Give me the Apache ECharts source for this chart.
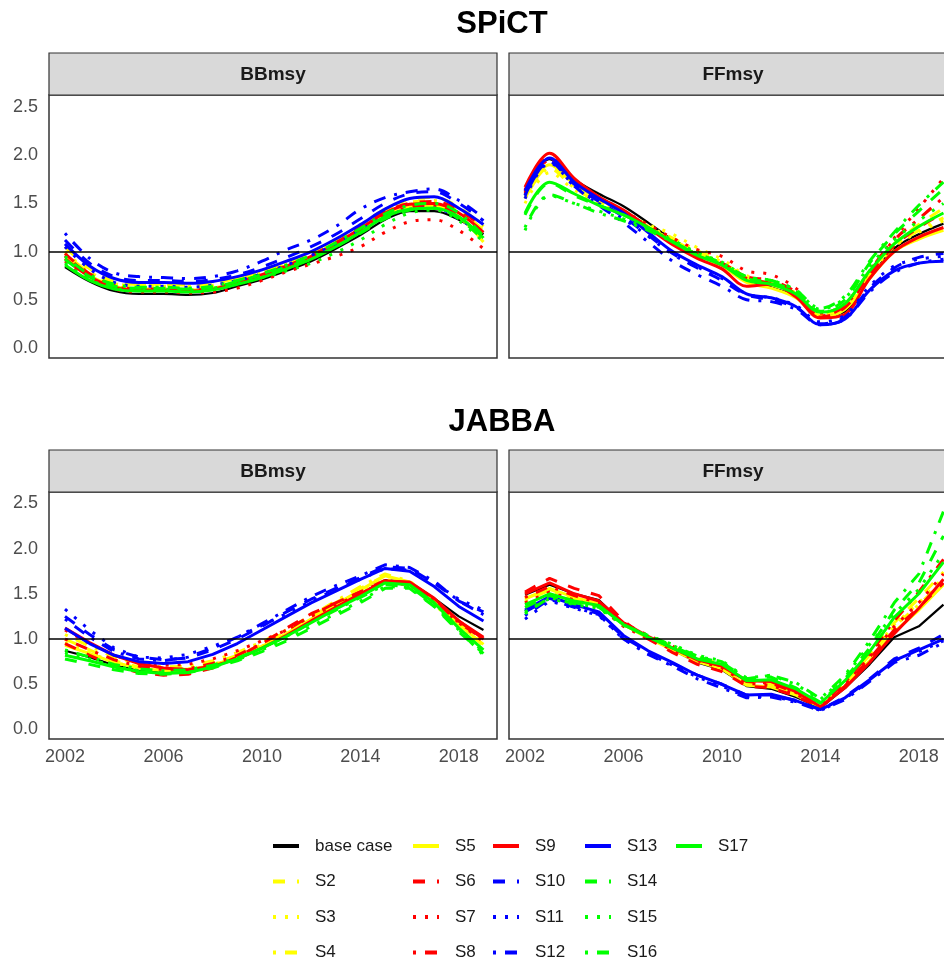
<!DOCTYPE html>
<html>
<head>
<meta charset="utf-8">
<script src="https://cdn.jsdelivr.net/npm/echarts@6/dist/echarts.min.js"></script>
<style>
  html, body { margin: 0; padding: 0; background: #fff; overflow: hidden; }
  /* the figure is cut at the right edge, like the reference */
  #chart { width: 962px; height: 990px; }
</style>
</head>
<body>
<div id="chart"></div>
<script>
// ── data ────────────────────────────────────────────────────────────────────
const YEARS   = [2002,2003,2004,2005,2006,2007,2008,2009,2010,2011,2012,2013,2014,2015,2016,2017,2018,2019];
const X_TICKS = [2002, 2006, 2010, 2014, 2018];
const Y_TICKS = [0, 0.5, 1, 1.5, 2, 2.5];
const RUNS    = ['base case','S2','S3','S4','S5','S6','S7','S8','S9','S10','S11','S12','S13','S14','S15','S16','S17'];

// rows follow RUNS order
const SPICT_BB = [
  [0.84,0.69,0.59,0.56,0.56,0.55,0.57,0.64,0.71,0.80,0.90,1.03,1.17,1.33,1.42,1.42,1.33,1.18], // base case
  [1.05,0.82,0.69,0.66,0.66,0.65,0.67,0.72,0.79,0.88,0.98,1.11,1.27,1.44,1.54,1.56,1.46,1.26], // S2
  [1.00,0.79,0.67,0.64,0.64,0.63,0.65,0.71,0.78,0.87,0.97,1.10,1.25,1.40,1.49,1.50,1.40,1.20], // S3
  [0.98,0.78,0.67,0.65,0.65,0.64,0.66,0.72,0.79,0.88,0.98,1.11,1.26,1.42,1.51,1.53,1.43,1.22], // S4
  [0.95,0.75,0.64,0.61,0.61,0.60,0.62,0.68,0.75,0.84,0.94,1.07,1.22,1.37,1.46,1.48,1.36,1.10], // S5
  [0.98,0.77,0.65,0.61,0.61,0.60,0.62,0.68,0.76,0.85,0.96,1.09,1.25,1.41,1.50,1.52,1.43,1.25], // S6
  [0.90,0.72,0.61,0.58,0.58,0.57,0.58,0.62,0.70,0.79,0.87,0.95,1.05,1.20,1.31,1.33,1.22,1.03], // S7
  [0.96,0.76,0.64,0.61,0.60,0.59,0.61,0.67,0.74,0.83,0.93,1.06,1.21,1.37,1.46,1.48,1.37,1.18], // S8
  [0.93,0.74,0.63,0.60,0.60,0.59,0.61,0.68,0.76,0.85,0.95,1.08,1.24,1.40,1.49,1.50,1.40,1.20], // S9
  [1.12,0.88,0.74,0.70,0.70,0.69,0.71,0.76,0.84,0.94,1.05,1.18,1.34,1.50,1.60,1.62,1.50,1.32], // S10
  [1.05,0.82,0.68,0.64,0.64,0.63,0.65,0.70,0.77,0.86,0.96,1.08,1.22,1.36,1.44,1.45,1.34,1.17], // S11
  [1.19,0.93,0.78,0.74,0.73,0.72,0.74,0.80,0.90,1.02,1.12,1.26,1.44,1.56,1.62,1.65,1.53,1.35], // S12
  [1.08,0.85,0.72,0.68,0.68,0.67,0.69,0.74,0.81,0.90,1.00,1.13,1.28,1.44,1.55,1.57,1.45,1.28], // S13
  [0.92,0.74,0.64,0.62,0.62,0.61,0.63,0.69,0.76,0.84,0.93,1.05,1.19,1.34,1.43,1.45,1.34,1.12], // S14
  [0.88,0.71,0.62,0.60,0.61,0.60,0.62,0.67,0.73,0.80,0.88,0.99,1.12,1.28,1.40,1.43,1.32,1.10], // S15
  [0.95,0.76,0.66,0.63,0.63,0.62,0.64,0.70,0.77,0.86,0.96,1.09,1.24,1.39,1.48,1.50,1.40,1.16], // S16
  [0.86,0.70,0.61,0.59,0.59,0.58,0.60,0.66,0.73,0.82,0.92,1.05,1.20,1.36,1.44,1.45,1.36,1.14]  // S17
];

const SPICT_FF = [
  [1.62,1.96,1.75,1.60,1.47,1.30,1.12,0.97,0.87,0.70,0.63,0.53,0.33,0.38,0.72,1.03,1.18,1.29], // base case
  [1.55,1.88,1.68,1.52,1.40,1.25,1.12,0.99,0.88,0.72,0.66,0.55,0.34,0.44,0.78,1.08,1.28,1.45], // S2
  [1.50,1.82,1.64,1.50,1.40,1.28,1.18,1.04,0.92,0.75,0.68,0.57,0.36,0.45,0.76,1.05,1.20,1.32], // S3
  [1.55,1.86,1.66,1.51,1.39,1.26,1.14,1.01,0.89,0.73,0.66,0.55,0.34,0.43,0.75,1.05,1.22,1.35], // S4
  [1.58,1.90,1.70,1.54,1.42,1.26,1.10,0.96,0.85,0.68,0.62,0.52,0.32,0.40,0.72,1.00,1.13,1.22], // S5
  [1.64,1.98,1.74,1.56,1.42,1.26,1.08,0.95,0.86,0.72,0.67,0.56,0.32,0.42,0.76,1.06,1.25,1.40], // S6
  [1.60,1.95,1.72,1.55,1.42,1.28,1.14,1.02,0.95,0.80,0.76,0.62,0.36,0.46,0.80,1.14,1.45,1.76], // S7
  [1.62,1.96,1.73,1.56,1.42,1.25,1.10,0.97,0.88,0.74,0.70,0.58,0.33,0.44,0.80,1.12,1.34,1.56], // S8
  [1.67,2.02,1.76,1.57,1.43,1.25,1.07,0.93,0.82,0.64,0.66,0.53,0.31,0.35,0.72,1.00,1.15,1.25], // S9
  [1.58,1.94,1.70,1.52,1.36,1.17,0.98,0.83,0.70,0.55,0.50,0.42,0.25,0.32,0.62,0.83,0.94,0.98], // S10
  [1.55,1.92,1.68,1.50,1.34,1.16,0.97,0.84,0.72,0.56,0.52,0.44,0.27,0.34,0.64,0.85,0.92,0.95], // S11
  [1.58,1.93,1.68,1.48,1.30,1.10,0.90,0.76,0.64,0.50,0.48,0.40,0.24,0.30,0.58,0.78,0.88,0.92], // S12
  [1.63,1.97,1.72,1.55,1.40,1.20,1.00,0.86,0.74,0.56,0.52,0.43,0.24,0.30,0.60,0.80,0.88,0.90], // S13
  [1.38,1.71,1.58,1.48,1.38,1.25,1.10,0.97,0.87,0.72,0.68,0.58,0.38,0.50,0.88,1.18,1.42,1.65], // S14
  [1.22,1.58,1.50,1.42,1.34,1.24,1.12,0.99,0.89,0.74,0.70,0.60,0.40,0.52,0.85,1.12,1.32,1.50], // S15
  [1.25,1.59,1.50,1.40,1.32,1.22,1.10,0.98,0.88,0.74,0.70,0.60,0.41,0.54,0.90,1.20,1.48,1.72], // S16
  [1.40,1.72,1.60,1.48,1.38,1.25,1.10,0.96,0.86,0.70,0.66,0.56,0.37,0.46,0.80,1.08,1.26,1.40]  // S17
];

const JABBA_BB = [
  [0.87,0.80,0.71,0.65,0.63,0.64,0.70,0.79,0.90,1.04,1.20,1.36,1.50,1.65,1.63,1.45,1.25,1.10], // base case
  [1.00,0.88,0.76,0.69,0.66,0.67,0.73,0.82,0.94,1.08,1.25,1.40,1.56,1.70,1.62,1.40,1.15,0.93], // S2
  [0.96,0.85,0.74,0.68,0.66,0.67,0.72,0.80,0.92,1.06,1.22,1.38,1.53,1.66,1.60,1.38,1.14,0.95], // S3
  [1.05,0.92,0.80,0.72,0.69,0.70,0.76,0.85,0.97,1.10,1.26,1.42,1.58,1.72,1.64,1.42,1.18,0.98], // S4
  [0.93,0.84,0.74,0.68,0.65,0.66,0.71,0.80,0.92,1.06,1.22,1.38,1.54,1.70,1.63,1.42,1.16,0.94], // S5
  [0.95,0.82,0.70,0.63,0.60,0.61,0.68,0.80,0.95,1.12,1.28,1.40,1.52,1.65,1.62,1.44,1.20,1.00], // S6
  [1.10,0.95,0.82,0.74,0.71,0.72,0.78,0.87,0.98,1.10,1.25,1.38,1.50,1.62,1.60,1.40,1.18,0.97], // S7
  [1.00,0.88,0.77,0.70,0.66,0.67,0.73,0.82,0.95,1.10,1.26,1.40,1.52,1.64,1.62,1.43,1.18,1.00], // S8
  [1.12,0.96,0.82,0.73,0.68,0.66,0.70,0.78,0.90,1.04,1.20,1.35,1.50,1.64,1.63,1.45,1.20,1.02], // S9
  [1.25,1.05,0.88,0.80,0.77,0.79,0.88,1.00,1.14,1.30,1.44,1.56,1.68,1.80,1.78,1.62,1.42,1.30], // S10
  [1.33,1.10,0.90,0.80,0.79,0.83,0.92,1.02,1.15,1.28,1.42,1.55,1.66,1.78,1.76,1.62,1.44,1.32], // S11
  [1.22,1.02,0.86,0.78,0.76,0.80,0.90,1.02,1.17,1.32,1.47,1.59,1.70,1.82,1.79,1.64,1.42,1.27], // S12
  [1.12,0.95,0.82,0.75,0.73,0.75,0.83,0.95,1.10,1.25,1.40,1.53,1.66,1.78,1.75,1.58,1.36,1.20], // S13
  [0.78,0.72,0.66,0.62,0.61,0.63,0.68,0.76,0.86,0.98,1.12,1.26,1.40,1.56,1.56,1.36,1.08,0.84], // S14
  [0.85,0.78,0.70,0.65,0.63,0.64,0.69,0.77,0.88,1.00,1.14,1.28,1.42,1.58,1.57,1.36,1.10,0.86], // S15
  [0.88,0.80,0.72,0.67,0.65,0.66,0.71,0.79,0.90,1.03,1.18,1.32,1.46,1.60,1.58,1.38,1.10,0.82], // S16
  [0.82,0.76,0.69,0.64,0.62,0.63,0.69,0.78,0.90,1.03,1.18,1.33,1.47,1.62,1.60,1.40,1.12,0.88]  // S17
];

const JABBA_FF = [
  [1.49,1.60,1.50,1.43,1.17,1.02,0.88,0.74,0.66,0.48,0.45,0.36,0.24,0.46,0.72,1.02,1.14,1.38], // base case
  [1.45,1.55,1.45,1.38,1.16,1.02,0.90,0.78,0.70,0.52,0.50,0.40,0.26,0.52,0.82,1.18,1.45,1.74], // S2
  [1.40,1.52,1.42,1.36,1.15,1.03,0.92,0.80,0.72,0.54,0.52,0.42,0.27,0.52,0.82,1.16,1.40,1.68], // S3
  [1.42,1.54,1.44,1.37,1.16,1.02,0.90,0.78,0.70,0.52,0.50,0.40,0.26,0.50,0.80,1.14,1.38,1.64], // S4
  [1.44,1.56,1.46,1.39,1.16,1.01,0.88,0.75,0.67,0.49,0.47,0.38,0.25,0.48,0.76,1.08,1.32,1.60], // S5
  [1.52,1.67,1.56,1.48,1.20,1.00,0.85,0.72,0.64,0.48,0.46,0.37,0.24,0.48,0.78,1.10,1.35,1.62], // S6
  [1.40,1.52,1.43,1.36,1.14,1.00,0.88,0.76,0.68,0.51,0.49,0.39,0.25,0.50,0.80,1.14,1.40,1.72], // S7
  [1.46,1.58,1.48,1.40,1.18,1.04,0.92,0.78,0.70,0.53,0.51,0.41,0.26,0.52,0.84,1.20,1.52,1.88], // S8
  [1.50,1.62,1.50,1.42,1.18,1.03,0.90,0.77,0.70,0.54,0.53,0.42,0.25,0.46,0.74,1.06,1.34,1.66], // S9
  [1.30,1.45,1.36,1.28,1.02,0.86,0.73,0.60,0.50,0.38,0.38,0.32,0.22,0.36,0.56,0.78,0.90,1.05], // S10
  [1.22,1.42,1.34,1.26,1.00,0.84,0.71,0.58,0.48,0.36,0.37,0.31,0.21,0.34,0.54,0.76,0.86,0.98], // S11
  [1.26,1.44,1.35,1.27,1.00,0.83,0.70,0.56,0.46,0.35,0.36,0.30,0.21,0.33,0.53,0.74,0.82,0.96], // S12
  [1.32,1.47,1.38,1.30,1.04,0.87,0.74,0.60,0.50,0.38,0.39,0.32,0.22,0.35,0.55,0.76,0.88,1.00], // S13
  [1.35,1.48,1.40,1.36,1.16,1.03,0.92,0.80,0.74,0.56,0.58,0.46,0.30,0.56,0.90,1.32,1.62,2.14], // S14
  [1.30,1.45,1.38,1.34,1.15,1.04,0.94,0.82,0.76,0.57,0.60,0.50,0.33,0.58,0.94,1.28,1.55,1.95], // S15
  [1.28,1.46,1.39,1.35,1.16,1.04,0.93,0.81,0.75,0.56,0.60,0.52,0.34,0.60,0.98,1.40,1.72,2.41], // S16
  [1.38,1.50,1.42,1.37,1.16,1.02,0.90,0.78,0.72,0.54,0.55,0.45,0.29,0.54,0.86,1.24,1.50,1.85]  // S17
];

// ── styles ──────────────────────────────────────────────────────────────────
const FONT = '"Liberation Sans", Arial, sans-serif';
const COLORS = ['#000000',
  '#FFFF00','#FFFF00','#FFFF00','#FFFF00',
  '#FF0000','#FF0000','#FF0000','#FF0000',
  '#0000FF','#0000FF','#0000FF','#0000FF',
  '#00FF00','#00FF00','#00FF00','#00FF00'];
// ggplot linetypes: dashed, dotted, dotdash, solid for each colour
const DASHED = [12, 12], DOTTED = [3, 9], DOTDASH = [3, 9, 12, 9];
const DASHES = ['solid',
  DASHED, DOTTED, DOTDASH, 'solid',
  DASHED, DOTTED, DOTDASH, 'solid',
  DASHED, DOTTED, DOTDASH, 'solid',
  DASHED, DOTTED, DOTDASH, 'solid'];

const PANELS = [
  { data: SPICT_BB, left: 49,  top: 95,  height: 263, smooth: 0.35, yLab: true,  xLab: false },
  { data: SPICT_FF, left: 509, top: 95,  height: 263, smooth: 0.35, yLab: false, xLab: false },
  { data: JABBA_BB, left: 49,  top: 492, height: 247, smooth: false, yLab: true,  xLab: true },
  { data: JABBA_FF, left: 509, top: 492, height: 247, smooth: false, yLab: false, xLab: true }
];
const PANEL_W = 448;

const grid = [], xAxis = [], yAxis = [], series = [];

PANELS.forEach((p, pi) => {
  grid.push({
    left: p.left, top: p.top, width: PANEL_W, height: p.height,
    show: true, borderColor: '#333', borderWidth: 1.5, backgroundColor: '#fff'
  });
  xAxis.push({
    type: 'value', gridIndex: pi, min: 2001.35, max: 2019.55,
    axisLine: { show: false }, axisTick: { show: false }, splitLine: { show: false },
    axisLabel: {
      show: p.xLab, customValues: X_TICKS, margin: 9,
      color: '#4D4D4D', fontSize: 18, fontFamily: FONT,
      formatter: v => String(v)
    }
  });
  yAxis.push({
    type: 'value', gridIndex: pi, min: -0.105, max: 2.625,
    axisLine: { show: false }, axisTick: { show: false }, splitLine: { show: false },
    axisLabel: {
      show: p.yLab, customValues: Y_TICKS, margin: 11,
      color: '#4D4D4D', fontSize: 18, fontFamily: FONT,
      formatter: v => v.toFixed(1)
    }
  });
  p.data.forEach((vals, si) => {
    const s = {
      name: RUNS[si], type: 'line', xAxisIndex: pi, yAxisIndex: pi,
      data: YEARS.map((yr, k) => [yr, vals[k]]),
      symbol: 'none', smooth: p.smooth, animation: false,
      lineStyle: { color: COLORS[si], width: si === 0 ? 2.2 : 3, type: DASHES[si] },
      itemStyle: { color: COLORS[si] },
      z: 3
    };
    if (si === 0) {
      s.markLine = {
        silent: true, symbol: 'none', label: { show: false },
        lineStyle: { color: '#000', width: 1.5, type: 'solid' },
        data: [{ yAxis: 1 }]
      };
    }
    series.push(s);
  });
});

// legend laid out column by column, as in the reference
const LEGEND_COLS = [
  ['base case','S2','S3','S4'],
  ['S5','S6','S7','S8'],
  ['S9','S10','S11','S12'],
  ['S13','S14','S15','S16'],
  ['S17']
];
const LEGEND_LEFT = [271, 411, 491, 583, 674];
const legend = LEGEND_COLS.map((names, c) => ({
  orient: 'vertical', left: LEGEND_LEFT[c], top: 836, padding: 0,
  itemWidth: 26, itemHeight: 14, itemGap: 15.5,
  selectedMode: false,
  data: names,
  lineStyle: { width: 4 },
  itemStyle: { opacity: 0 },
  textStyle: { color: '#1A1A1A', fontSize: 17, fontFamily: FONT, lineHeight: 20, padding: [0, 0, 0, 11] }
}));

// facet strips and block titles
function strip(x, y, label) {
  return [
    { type: 'rect', shape: { x: x, y: y, width: PANEL_W, height: 42 },
      style: { fill: '#D9D9D9', stroke: '#333', lineWidth: 1.2 }, z: 10 },
    { type: 'text', x: x + PANEL_W / 2, y: y + 22, z: 11,
      style: { text: label, textAlign: 'center', textVerticalAlign: 'middle',
               font: 'bold 19px ' + FONT, fill: '#1A1A1A' } }
  ];
}
function heading(y, label) {
  return { type: 'text', x: 502, y: y, z: 11,
    style: { text: label, textAlign: 'center', textVerticalAlign: 'middle',
             font: 'bold 31px ' + FONT, fill: '#000' } };
}

const graphic = [
  heading(24, 'SPiCT'), heading(422, 'JABBA'),
  ...strip(49, 53, 'BBmsy'), ...strip(509, 53, 'FFmsy'),
  ...strip(49, 450, 'BBmsy'), ...strip(509, 450, 'FFmsy')
];

const chart = echarts.init(document.getElementById('chart'), null, { renderer: 'canvas' });
chart.setOption({
  animation: false,
  backgroundColor: '#fff',
  grid, xAxis, yAxis, series, legend, graphic
});
</script>
</body>
</html>
